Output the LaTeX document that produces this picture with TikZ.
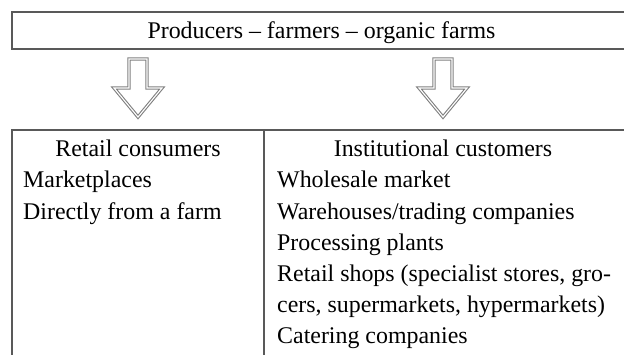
\documentclass[tikz,border=0pt]{standalone}
\usepackage{fontspec}
\setmainfont{Liberation Serif}
\tikzset{
    frameline/.style={draw=black!65, line width=1.1pt},
    hollowarrow/.style={draw=black!50, double=white, double distance=1.1pt, line width=1.1pt, line join=miter},
    headtext/.style={anchor=base, inner sep=0pt, font=\fontsize{23.9}{31}\selectfont},
    celltext/.style={anchor=base west, inner sep=0pt, font=\fontsize{23.9}{31}\selectfont}
}
\begin{document}
\begin{tikzpicture}[x=1pt, y=1pt]
        \useasboundingbox (0, 0) rectangle (624, 354);
        \clip (0, 0) rectangle (624, 354);

        % top box
        \draw[frameline] (12, 342) rectangle (632, 305);
        \node[headtext] (producers) at (321.5, 315.5) {Producers – farmers – organic farms};

        % arrows
        \foreach \ax in {138, 443}
            \draw[hollowarrow] (\ax-9, 295) -- (\ax+9, 295) -- (\ax+9, 266) -- (\ax+24, 266)
                -- (\ax, 237) -- (\ax-24, 266) -- (\ax-9, 266) -- cycle;

        % table
        \draw[frameline] (12, -5) -- (12, 224) -- (632, 224);
        \draw[frameline] (264, 224) -- (264, -5);

        \node[headtext] (retail) at (138, 197) {Retail consumers};
        \node[celltext] (market) at (23, 166) {Marketplaces};
        \node[celltext] (farm) at (23, 135) {Directly from a farm};

        \node[headtext] (institutional) at (443, 197) {Institutional customers};
        \node[celltext] (wholesale) at (277, 166) {Wholesale market};
        \node[celltext] (warehouse) at (277, 135) {Warehouses/trading companies};
        \node[celltext] (processing) at (277, 104) {Processing plants};
        \node[celltext] (shopsa) at (277, 73) {Retail shops (specialist stores, gro-};
        \node[celltext] (shopsb) at (277, 42) {cers, supermarkets, hypermarkets)};
        \node[celltext] (catering) at (277, 11) {Catering companies};
    \end{tikzpicture}
\end{document}
